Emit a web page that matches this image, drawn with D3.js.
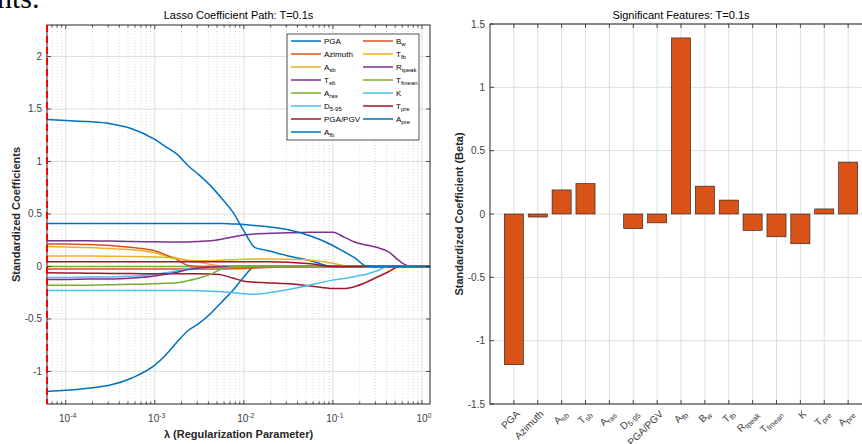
<!DOCTYPE html>
<html>
<head>
<meta charset="utf-8">
<script src="https://cdn.jsdelivr.net/npm/d3@7"></script>
<style>
  body { margin: 0; background: #fff; }
  svg { display: block; font-family: "Liberation Sans", Arial, sans-serif; }
</style>
</head>
<body>
<svg id="chart" width="862" height="444"></svg>
<script>
// feature names ("_" starts a subscript)
const features = ["PGA", "Azimuth", "A_sb", "T_sb", "A_ras", "D_5-95", "PGA/PGV", "A_fb",
    "B_w", "T_fb", "R_tpeak", "T_fmean", "K", "T_pre", "A_pre"];

const logLambda = [-4.21, -4, -3.75, -3.5, -3.25, -3, -2.875, -2.75, -2.625, -2.5, -2.375, -2.25, -2.125, -2,
    -1.875, -1.75, -1.5, -1.25, -1, -0.875, -0.75, -0.625, -0.5, -0.375, -0.25, -0.125, 0, 0.09];

// coefficient paths, one per feature
const pathPGA = [-1.19, -1.18, -1.16, -1.13, -1.06, -0.94, -0.84, -0.72, -0.61, -0.54, -0.45, -0.34, -0.23, -0.10,
    0, 0, 0, 0, 0, 0, 0, 0, 0, 0, 0, 0, 0, 0];
const pathAzimuth = [-0.024, -0.024, -0.024, -0.024, -0.024, -0.024, -0.024, -0.024, -0.024, -0.025, -0.025, -0.025, -0.022, -0.02,
    -0.015, -0.01, -0.003, 0, 0, 0, 0, 0, 0, 0, 0, 0, 0, 0];
const pathAsb = [0.19, 0.185, 0.18, 0.17, 0.16, 0.13, 0.10, 0.08, 0.05, 0.04, 0.02, 0.005, 0, 0,
    0, 0, 0, 0, 0, 0, 0, 0, 0, 0, 0, 0, 0, 0];
const pathTsb = [0.245, 0.245, 0.244, 0.242, 0.238, 0.235, 0.233, 0.232, 0.233, 0.238, 0.245, 0.26, 0.28, 0.30,
    0.31, 0.315, 0.32, 0.325, 0.325, 0.28, 0.23, 0.205, 0.18, 0.14, 0.05, 0, 0, 0];
const pathAras = [0, 0, 0, 0, 0, 0, 0, 0, 0, 0, 0, 0, 0, 0,
    0, 0, 0, 0, 0, 0, 0, 0, 0, 0, 0, 0, 0, 0];
const pathD595 = [-0.105, -0.105, -0.10, -0.10, -0.09, -0.075, -0.06, -0.04, -0.02, -0.005, 0, 0, 0, 0,
    0, 0, 0, 0, 0, 0, 0, 0, 0, 0, 0, 0, 0, 0];
const pathPgaPgv = [-0.06, -0.062, -0.064, -0.066, -0.068, -0.07, -0.07, -0.07, -0.07, -0.07, -0.072, -0.08, -0.11, -0.14,
    -0.15, -0.155, -0.165, -0.185, -0.21, -0.21, -0.19, -0.15, -0.10, -0.05, 0, 0, 0, 0];
const pathAfb = [1.40, 1.39, 1.38, 1.36, 1.31, 1.21, 1.14, 1.07, 0.96, 0.87, 0.77, 0.65, 0.52, 0.34,
    0.18, 0.155, 0.10, 0.055, 0, 0, 0, 0, 0, 0, 0, 0, 0, 0];
const pathBw = [0.215, 0.213, 0.21, 0.20, 0.18, 0.15, 0.11, 0.065, 0.01, 0, 0, 0, 0, 0,
    0, 0, 0, 0, 0, 0, 0, 0, 0, 0, 0, 0, 0, 0];
const pathTfb = [0.10, 0.10, 0.10, 0.098, 0.095, 0.09, 0.085, 0.075, 0.06, 0.055, 0.055, 0.06, 0.065, 0.068,
    0.07, 0.07, 0.068, 0.06, 0.03, 0.008, 0, 0, 0, 0, 0, 0, 0, 0];
const pathRtpeak = [-0.125, -0.125, -0.12, -0.12, -0.11, -0.09, -0.075, -0.055, -0.03, -0.015, -0.006, -0.002, 0, 0,
    0, 0, 0, 0, 0, 0, 0, 0, 0, 0, 0, 0, 0, 0];
const pathTfmean = [-0.18, -0.18, -0.178, -0.175, -0.17, -0.165, -0.16, -0.155, -0.135, -0.11, -0.075, -0.025, 0, 0,
    0, 0, 0, 0, 0, 0, 0, 0, 0, 0, 0, 0, 0, 0];
const pathK = [-0.23, -0.23, -0.23, -0.23, -0.23, -0.23, -0.23, -0.23, -0.23, -0.232, -0.235, -0.24, -0.25, -0.26,
    -0.265, -0.255, -0.22, -0.175, -0.13, -0.115, -0.095, -0.075, -0.04, 0, 0, 0, 0, 0];
const pathTpre = [0.046, 0.046, 0.046, 0.046, 0.046, 0.046, 0.046, 0.046, 0.046, 0.046, 0.046, 0.046, 0.046, 0.046,
    0.046, 0.045, 0.04, 0.025, 0, 0, 0, 0, 0, 0, 0, 0, 0, 0];
const pathApre = [0.41, 0.41, 0.41, 0.41, 0.41, 0.41, 0.41, 0.41, 0.41, 0.41, 0.41, 0.41, 0.405, 0.40,
    0.39, 0.38, 0.35, 0.29, 0.20, 0.14, 0.08, 0.005, 0, 0, 0, 0, 0, 0];

// coefficients at the selected lambda (right panel)
const betaSelected = [-1.19, -0.024, 0.19, 0.24, 0, -0.115, -0.07, 1.39, 0.22, 0.11, -0.13, -0.18, -0.235, 0.04, 0.41];

// axis ticks
const lambdaTicks = [-4, -3, -2, -1, 0];
const pathYTicks = [-1, -0.5, 0, 0.5, 1, 1.5, 2];
const betaYTicks = [-1.5, -1, -0.5, 0, 0.5, 1, 1.5];

const colors = ["#0072BD", "#D95319", "#EDB120", "#7E2F8E", "#77AC30", "#4DBEEE", "#A2142F"];
const allPaths = [pathPGA, pathAzimuth, pathAsb, pathTsb, pathAras, pathD595, pathPgaPgv, pathAfb,
    pathBw, pathTfb, pathRtpeak, pathTfmean, pathK, pathTpre, pathApre];

const svg = d3.select("#chart");
const axisColor = "#262626";
const labelColor = "#404040";

// write a label with optional subscript part
function writeLabel(sel, name, subSize) {
    const parts = name.split("_");
    sel.append("tspan").text(parts[0]);
    if (parts.length > 1) {
        sel.append("tspan").attr("dy", "0.3em").style("font-size", subSize).text(parts[1]);
    }
}

// ---------------- left panel: lasso path ----------------
const L = { left: 47, right: 430, top: 25, bottom: 404 };
const x = d3.scaleLog().domain([Math.pow(10, -4.21), Math.pow(10, 0.09)]).range([L.left, L.right]);
const y = d3.scaleLinear().domain([-1.31, 2.3]).range([L.bottom, L.top]);

const left = svg.append("g");
const allTicks = x.ticks();
const majorX = lambdaTicks.map(d => Math.pow(10, d));
const minorX = allTicks.filter(t => !majorX.some(m => Math.abs(m - t) / t < 1e-6));

// grid
left.selectAll(".minor").data(minorX).enter().append("line")
    .attr("x1", d => x(d)).attr("x2", d => x(d))
    .attr("y1", L.top).attr("y2", L.bottom)
    .attr("stroke", "#c8c8c8").attr("stroke-width", 0.7).attr("stroke-dasharray", "1,2");
left.selectAll(".majorx").data(majorX).enter().append("line")
    .attr("x1", d => x(d)).attr("x2", d => x(d))
    .attr("y1", L.top).attr("y2", L.bottom)
    .attr("stroke", "#dedede").attr("stroke-width", 1);
left.selectAll(".majory").data(pathYTicks).enter().append("line")
    .attr("x1", L.left).attr("x2", L.right)
    .attr("y1", d => y(d)).attr("y2", d => y(d))
    .attr("stroke", "#dedede").attr("stroke-width", 1);

// lines
svg.append("clipPath").attr("id", "clipL").append("rect")
    .attr("x", L.left).attr("y", L.top).attr("width", L.right - L.left).attr("height", L.bottom - L.top);
const line = d3.line()
    .x(d => x(Math.pow(10, d[0])))
    .y(d => y(d[1]))
    .curve(d3.curveMonotoneX);
left.append("g").attr("clip-path", "url(#clipL)")
    .selectAll("path").data(allPaths).enter().append("path")
    .attr("d", vals => line(vals.map((v, i) => [logLambda[i], v])))
    .attr("fill", "none")
    .attr("stroke", (d, i) => colors[i % colors.length])
    .attr("stroke-width", 1.5);

// frame + ticks
left.append("rect").attr("x", L.left).attr("y", L.top)
    .attr("width", L.right - L.left).attr("height", L.bottom - L.top)
    .attr("fill", "none").attr("stroke", axisColor).attr("stroke-width", 1);
const tickG = left.append("g").attr("stroke", axisColor).attr("stroke-width", 0.8);
majorX.forEach(t => {
    tickG.append("line").attr("x1", x(t)).attr("x2", x(t)).attr("y1", L.bottom).attr("y2", L.bottom - 4);
    tickG.append("line").attr("x1", x(t)).attr("x2", x(t)).attr("y1", L.top).attr("y2", L.top + 4);
});
minorX.forEach(t => {
    tickG.append("line").attr("x1", x(t)).attr("x2", x(t)).attr("y1", L.bottom).attr("y2", L.bottom - 2.5);
    tickG.append("line").attr("x1", x(t)).attr("x2", x(t)).attr("y1", L.top).attr("y2", L.top + 2.5);
});
pathYTicks.forEach(t => {
    tickG.append("line").attr("x1", L.left).attr("x2", L.left + 4).attr("y1", y(t)).attr("y2", y(t));
    tickG.append("line").attr("x1", L.right).attr("x2", L.right - 4).attr("y1", y(t)).attr("y2", y(t));
});

// selected lambda marker
left.append("line")
    .attr("x1", x(Math.pow(10, logLambda[0]))).attr("x2", x(Math.pow(10, logLambda[0])))
    .attr("y1", L.top).attr("y2", L.bottom)
    .attr("stroke", "#ff0000").attr("stroke-width", 2).attr("stroke-dasharray", "7,4");

// tick labels
lambdaTicks.forEach(p => {
    const t = left.append("text").attr("x", x(Math.pow(10, p)) + 2).attr("y", 422)
        .attr("text-anchor", "middle").attr("fill", labelColor).style("font-size", "10px");
    t.append("tspan").text("10");
    t.append("tspan").attr("dy", -4).style("font-size", "7px").text(p);
});
left.selectAll(".ylab").data(pathYTicks).enter().append("text")
    .attr("x", L.left - 5).attr("y", d => y(d)).attr("dy", "0.35em")
    .attr("text-anchor", "end").attr("fill", labelColor).style("font-size", "10px")
    .text(d => d);

left.append("text").attr("x", (L.left + L.right) / 2).attr("y", 19)
    .attr("text-anchor", "middle").attr("fill", "#000").style("font-size", "11px")
    .text("Lasso Coefficient Path: T=0.1s");
left.append("text").attr("x", (L.left + L.right) / 2).attr("y", 438)
    .attr("text-anchor", "middle").attr("fill", axisColor)
    .style("font-size", "11px").style("font-weight", "bold")
    .text("λ (Regularization Parameter)");
left.append("text").attr("transform", `translate(20, ${(L.top + L.bottom) / 2}) rotate(-90)`)
    .attr("text-anchor", "middle").attr("fill", axisColor)
    .style("font-size", "11px").style("font-weight", "bold")
    .text("Standardized Coefficients");

// legend
const leg = left.append("g");
leg.append("rect").attr("x", 287).attr("y", 34).attr("width", 132).attr("height", 106)
    .attr("fill", "#fff").attr("stroke", axisColor).attr("stroke-width", 0.8);
features.forEach((f, i) => {
    const col = i < 8 ? 0 : 1;
    const row = i < 8 ? i : i - 8;
    const lx = 291 + col * 72, ly = 41 + row * 13;
    leg.append("line").attr("x1", lx).attr("x2", lx + 30).attr("y1", ly).attr("y2", ly)
        .attr("stroke", colors[i % colors.length]).attr("stroke-width", 1.5);
    const t = leg.append("text").attr("x", lx + 33).attr("y", ly).attr("dy", "0.35em")
        .attr("fill", "#000").style("font-size", "8px");
    writeLabel(t, f, "6px");
});

// ---------------- right panel: bars ----------------
const R = { left: 490, right: 872, top: 24, bottom: 404 };
const xb = d3.scaleLinear().domain([0, 16]).range([R.left, R.right]);
const yb = d3.scaleLinear().domain([-1.5, 1.5]).range([R.bottom, R.top]);
const right = svg.append("g");
const cats = d3.range(1, features.length + 1);

right.selectAll(".gx").data(cats).enter().append("line")
    .attr("x1", d => xb(d)).attr("x2", d => xb(d)).attr("y1", R.top).attr("y2", R.bottom)
    .attr("stroke", "#dedede").attr("stroke-width", 1);
right.selectAll(".gy").data(betaYTicks).enter().append("line")
    .attr("x1", R.left).attr("x2", R.right).attr("y1", d => yb(d)).attr("y2", d => yb(d))
    .attr("stroke", "#dedede").attr("stroke-width", 1);

const bw = 0.8 * (xb(1) - xb(0));
right.selectAll(".bar").data(betaSelected).enter().append("rect")
    .attr("x", (d, i) => xb(i + 1) - bw / 2)
    .attr("y", d => yb(Math.max(0, d)))
    .attr("width", bw)
    .attr("height", d => Math.abs(yb(d) - yb(0)))
    .attr("fill", "#D95319").attr("stroke", "#1a1a1a").attr("stroke-width", 0.6);

right.append("rect").attr("x", R.left).attr("y", R.top)
    .attr("width", R.right - R.left).attr("height", R.bottom - R.top)
    .attr("fill", "none").attr("stroke", axisColor).attr("stroke-width", 1);
const tickR = right.append("g").attr("stroke", axisColor).attr("stroke-width", 0.8);
cats.forEach(c => {
    tickR.append("line").attr("x1", xb(c)).attr("x2", xb(c)).attr("y1", R.bottom).attr("y2", R.bottom - 4);
    tickR.append("line").attr("x1", xb(c)).attr("x2", xb(c)).attr("y1", R.top).attr("y2", R.top + 4);
});
betaYTicks.forEach(t => {
    tickR.append("line").attr("x1", R.left).attr("x2", R.left + 4).attr("y1", yb(t)).attr("y2", yb(t));
});

right.selectAll(".bylab").data(betaYTicks).enter().append("text")
    .attr("x", R.left - 5).attr("y", d => yb(d)).attr("dy", "0.35em")
    .attr("text-anchor", "end").attr("fill", labelColor).style("font-size", "10px")
    .text(d => d);

features.forEach((f, i) => {
    const t = right.append("text")
        .attr("transform", `translate(${xb(i + 1) + 4}, 412) rotate(-45)`)
        .attr("text-anchor", "end").attr("dy", "0.35em")
        .attr("fill", labelColor).style("font-size", "10px");
    writeLabel(t, f, "7.5px");
});

right.append("text").attr("x", (R.left + R.right) / 2).attr("y", 19)
    .attr("text-anchor", "middle").attr("fill", "#000").style("font-size", "11px")
    .text("Significant Features: T=0.1s");
right.append("text").attr("transform", `translate(463, ${(R.top + R.bottom) / 2}) rotate(-90)`)
    .attr("text-anchor", "middle").attr("fill", axisColor)
    .style("font-size", "11px").style("font-weight", "bold")
    .text("Standardized Coefficient (Beta)");

// leftover text from the page the figure was cut out of
svg.append("text").attr("x", -3).attr("y", 8)
    .style("font-family", "'Liberation Serif', serif").style("font-size", "30px").attr("fill", "#000")
    .text("nts.");
</script>
</body>
</html>
